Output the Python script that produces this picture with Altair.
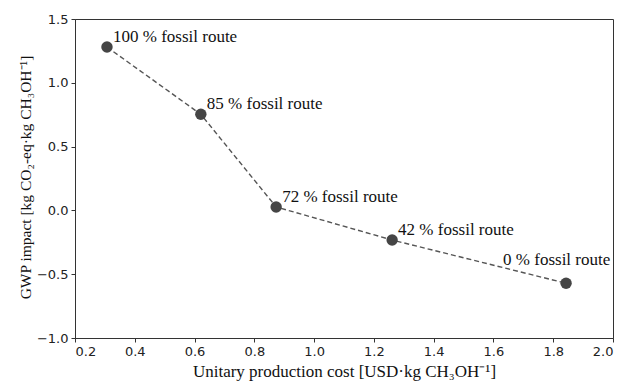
import altair as alt
import pandas as pd

cost = [0.307, 0.621, 0.873, 1.261, 1.843]
gwp = [1.28, 0.753, 0.027, -0.232, -0.571]
labels = ["100 % fossil route", "85 % fossil route", "72 % fossil route",
          "42 % fossil route", "0 % fossil route"]
x_ticks = [0.2, 0.4, 0.6, 0.8, 1.0, 1.2, 1.4, 1.6, 1.8, 2.0]
y_ticks = [-1.0, -0.5, 0.0, 0.5, 1.0, 1.5]

df = pd.DataFrame({"cost": cost, "gwp": gwp, "label": labels, "order": range(len(cost))})

serif = "Liberation Serif"
sans = "DejaVu Sans"
pt_color = "#454545"

x = alt.X("cost:Q", scale=alt.Scale(domain=[0.2, 2.0], nice=False, zero=False),
          axis=alt.Axis(values=x_ticks, format=".1f", title="Unitary production cost [USD·kg CH₃OH⁻¹]",
                        titleY=33, titleBaseline="middle", titleFontSize=17))
y = alt.Y("gwp:Q", scale=alt.Scale(domain=[-1.0, 1.5], nice=False, zero=False),
          axis=alt.Axis(values=y_ticks, format=".1f", title="GWP impact [kg CO₂-eq·kg CH₃OH⁻¹]",
                        titleX=-50, titleY=158, titleBaseline="middle", titleAngle=-90,
                        titleFontSize=15.5))

base = alt.Chart(df)
line = base.mark_line(color="#555555", strokeDash=[5, 3], strokeWidth=1.4).encode(
    x=x, y=y, order="order:Q")
pts = base.mark_circle(size=130, color=pt_color, opacity=1).encode(x=x, y=y)
txt1 = base.transform_filter(alt.datum.order < 4).mark_text(
    align="left", baseline="middle", dx=6, dy=-10, font=serif, fontSize=17, color="#111111"
).encode(x=x, y=y, text="label:N")
txt2 = base.transform_filter(alt.datum.order == 4).mark_text(
    align="left", baseline="middle", dx=-63, dy=-23, font=serif, fontSize=17, color="#111111"
).encode(x=x, y=y, text="label:N")

chart = alt.layer(line, pts, txt1, txt2).properties(
    width=538, height=319,
    autosize=alt.AutoSizeParams(type="none"),
    padding={"left": 75, "top": 19, "right": 8, "bottom": 44},
).configure_view(stroke="#333333", strokeWidth=1).configure_axis(
    grid=False, domainColor="#333333", tickColor="#333333", tickSize=4,
    labelFont=sans, labelFontSize=13, labelColor="#222222", labelPadding=3,
    titleFont=serif, titleFontWeight="normal", titleColor="#111111",
    domainWidth=1,
)

chart.save("out.html", embed_options={"renderer": "svg", "actions": False})
